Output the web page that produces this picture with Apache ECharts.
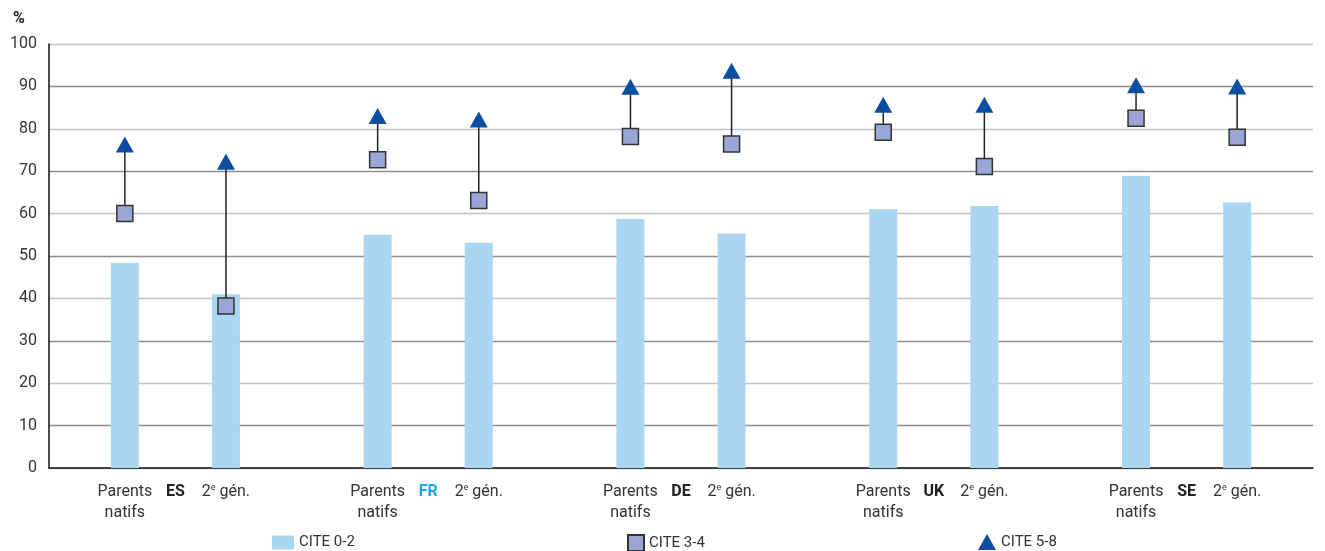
<!DOCTYPE html>
<html><head><meta charset="utf-8">
<script src="https://cdn.jsdelivr.net/npm/echarts@6/dist/echarts.min.js"></script>
<style>html,body{margin:0;padding:0;background:#fff}#c{width:1325px;height:551px}</style>
</head><body><div id="c"></div>
<script>
const countries = ['ES','FR','DE','UK','SE'];
const groupLabels = ['Parents natifs','2e gén.'];
const yTicks = [0,10,20,30,40,50,60,70,80,90,100];
// order: ES parents, ES 2e, FR parents, FR 2e, DE..., UK..., SE...
const cite02 = [48.4, 41.0, 55.0, 53.1, 58.7, 55.3, 61.0, 61.8, 68.9, 62.6];
const cite34 = [60.0, 38.2, 72.7, 63.1, 78.2, 76.4, 79.2, 71.1, 82.5, 78.0];
const cite58 = [76.3, 72.2, 83.0, 82.2, 89.9, 93.7, 85.7, 85.7, 90.3, 90.0];
const legendNames = ['CITE 0-2','CITE 3-4','CITE 5-8'];

const FONT = "'Roboto', sans-serif";
// Build 25 slots: per country [blank, parents, country, 2e, blank]
const slots = [];
const slotKind = [];
const barData = [], sqData = [], triData = [], lineData = [];
countries.forEach((c, i) => {
  ['b','p','c','g','b'].forEach((k, j) => {
    slots.push(k + i + '_' + j);
    slotKind.push({k: k, i: i});
  });
});
slots.forEach((s, idx) => {
  const sk = slotKind[idx];
  let di = -1;
  if (sk.k === 'p') di = sk.i * 2;
  if (sk.k === 'g') di = sk.i * 2 + 1;
  if (di >= 0) {
    barData.push(cite02[di]);
    sqData.push([idx, cite34[di]]);
    triData.push([idx, cite58[di]]);
    lineData.push([idx, cite34[di], cite58[di]]);
  } else {
    barData.push(null);
  }
});

const legendText = {fontFamily: FONT, fontSize: 15, color: '#333'};
const chart = echarts.init(document.getElementById('c'));
chart.setOption({
  animation: false,
  textStyle: {fontFamily: FONT},
  grid: {left: 49, right: 12, top: 44, bottom: 83, containLabel: false},
  title: {text: '%', left: 13, top: 11, padding: 0, textStyle: {fontFamily: FONT, fontSize: 16, fontWeight: 'bold', color: '#222'}},
  legend: [
    {data: [{name: legendNames[0], icon: 'rect'}], left: 272, top: 535, padding: 0, itemWidth: 22, itemHeight: 14, itemGap: 5,
     textStyle: legendText},
    {data: [{name: legendNames[1], icon: 'rect'}], left: 627, top: 534, padding: 0, itemWidth: 16, itemHeight: 16, itemGap: 5,
     textStyle: legendText},
    {data: [{name: legendNames[2], icon: 'triangle'}], left: 978, top: 534, padding: 0, itemWidth: 18, itemHeight: 16, itemGap: 5,
     textStyle: legendText}
  ],
  xAxis: {
    type: 'category', data: slots,
    axisLine: {lineStyle: {color: '#111', width: 1.5}},
    axisTick: {show: false},
    axisLabel: {
      interval: 0, margin: 13,
      fontFamily: FONT, fontSize: 16, color: '#333', lineHeight: 21,
      formatter: function (v, idx) {
        const sk = slotKind[idx];
        if (sk.k === 'p') return 'Parents\nnatifs';
        if (sk.k === 'g') return '{n|2}{sup|e}{n| gén.}';
        if (sk.k === 'c') return sk.i === 1 ? '{fr|' + countries[sk.i] + '}' : '{cb|' + countries[sk.i] + '}';
        return '';
      },
      rich: {
        n: {fontFamily: FONT, fontSize: 16, color: '#333'},
        sup: {fontFamily: FONT, fontSize: 9, color: '#333', padding: [0, 0, 7, 0]},
        cb: {fontFamily: FONT, fontSize: 16, fontWeight: 'bold', color: '#222'},
        fr: {fontFamily: FONT, fontSize: 16, fontWeight: 'bold', color: '#1aa9e6'}
      }
    }
  },
  yAxis: {
    type: 'value', min: yTicks[0], max: yTicks[yTicks.length - 1], interval: 10,
    axisLine: {show: true, lineStyle: {color: '#111', width: 1.5}},
    axisTick: {show: false},
    axisLabel: {fontFamily: FONT, fontSize: 16, color: '#333', margin: 12},
    splitLine: {lineStyle: {color: ['#c4c4c4', '#8f8f8f'], width: 1.3}}
  },
  series: [
    {name: legendNames[0], type: 'bar', data: barData, barWidth: 28,
     itemStyle: {color: '#abd6f1'}, z: 2},
    {name: 'lines', type: 'custom', data: lineData, z: 3,
     renderItem: function (params, api) {
       const p1 = api.coord([api.value(0), api.value(1)]);
       const p2 = api.coord([api.value(0), api.value(2)]);
       return {type: 'line', shape: {x1: p1[0], y1: p1[1], x2: p2[0], y2: p2[1]},
               style: {stroke: '#222', lineWidth: 1.5}};
     }},
    {name: legendNames[1], type: 'scatter', data: sqData, symbol: 'rect', symbolSize: 16,
     itemStyle: {color: '#9aa6d6', borderColor: '#333', borderWidth: 1.5, opacity: 1}, z: 4},
    {name: legendNames[2], type: 'scatter', data: triData, symbol: 'triangle', symbolSize: [18, 16],
     itemStyle: {color: '#0b4ea2', opacity: 1}, z: 5}
  ]
});
</script></body></html>
